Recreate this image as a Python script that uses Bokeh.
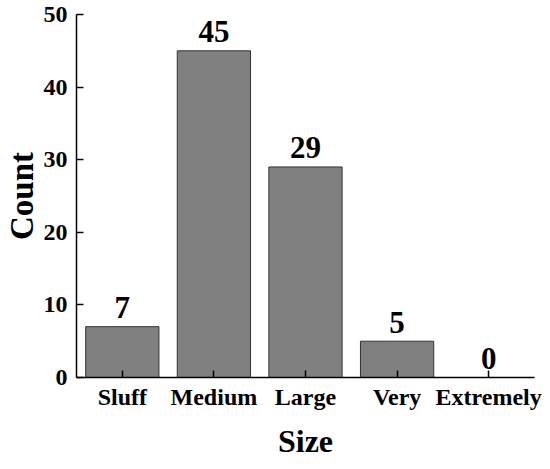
from bokeh.plotting import figure
from bokeh.models import ColumnDataSource
from bokeh.core.properties import value
from bokeh.embed import file_html
from bokeh.resources import INLINE

categories = ["Sluff", "Medium", "Large", "Very", "Extremely"]
counts = [7, 45, 29, 5, 0]
y_ticks = [0, 10, 20, 30, 40, 50]

FONT = "Liberation Serif"

src = ColumnDataSource(dict(cat=categories, count=counts,
                            label=[str(c) for c in counts]))

p = figure(x_range=categories, y_range=(0, 50), width=542, height=461,
           output_backend="svg", toolbar_location=None,
           min_border_left=73, min_border_right=8, min_border_top=14,
           min_border_bottom=80)
p.outline_line_color = None
p.grid.visible = False
p.background_fill_color = "white"
p.border_fill_color = "white"

p.vbar(x="cat", top="count", width=0.8, source=src,
       fill_color="#808080", line_color="#333333", line_width=1)
p.text(x="cat", y="count", text="label", source=src,
       text_align="center", text_baseline="alphabetic", y_offset=-19,
       text_font=value(FONT), text_font_style="bold",
       text_font_size="31px", text_color="black")

for ax in (p.xaxis[0], p.yaxis[0]):
    ax.major_tick_in = 7
    ax.major_tick_out = 0
    ax.minor_tick_line_color = None
    ax.axis_line_width = 1.5
    ax.axis_line_color = "black"
    ax.major_tick_line_color = "black"
    ax.major_tick_line_width = 1.5
    ax.major_label_text_font = FONT
    ax.major_label_text_font_style = "bold"
    ax.major_label_text_font_size = "24px"
    ax.major_label_text_color = "black"
    ax.axis_label_text_font = FONT
    ax.axis_label_text_font_style = "bold"
    ax.axis_label_text_color = "black"

p.yaxis.ticker = y_ticks
p.yaxis.major_label_standoff = 9
p.yaxis.axis_label = "Count"
p.yaxis.axis_label_text_font_size = "33px"
p.yaxis.axis_label_standoff = 1

p.xaxis.major_label_standoff = 6
p.xaxis.axis_label = "Size"
p.xaxis.axis_label_text_font_size = "32px"
p.xaxis.axis_label_standoff = 10

open("out.html", "w").write(file_html(p, INLINE))
